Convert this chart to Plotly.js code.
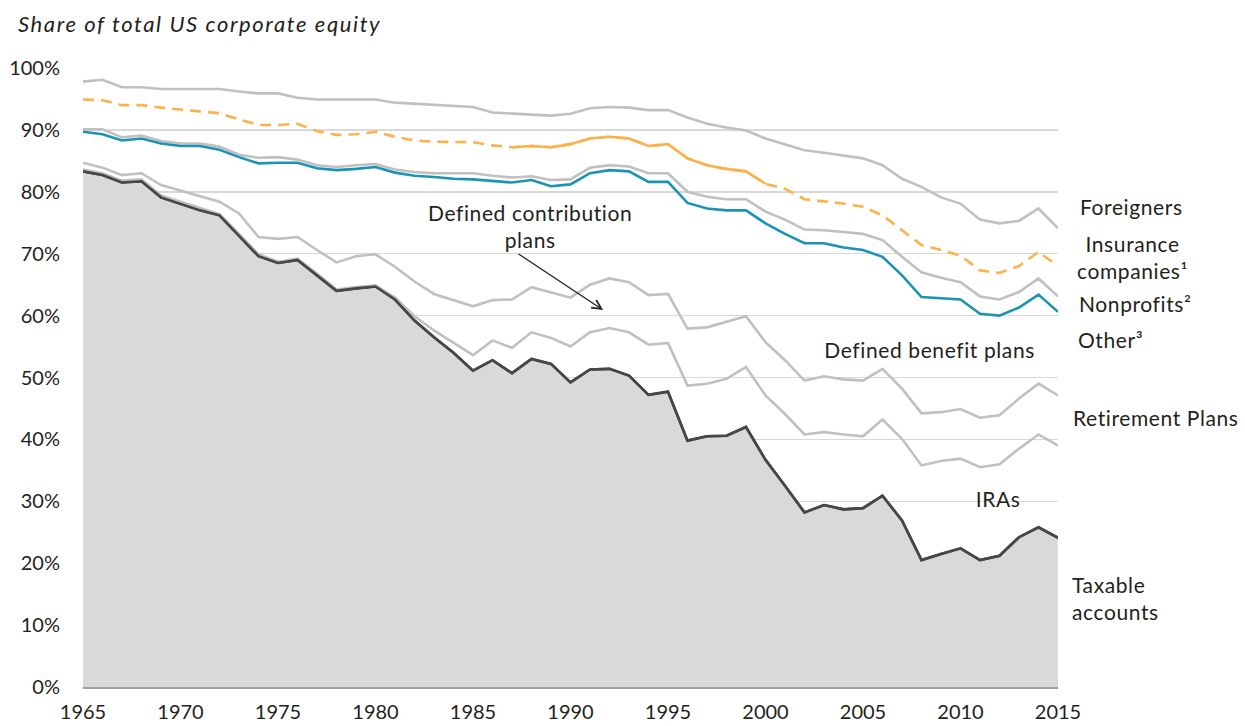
<!DOCTYPE html>
<html>
<head>
<meta charset="utf-8">
<script src="https://cdn.plot.ly/plotly-3.0.1.min.js"></script>
<style>
  html, body { margin: 0; padding: 0; background: #ffffff; }
  #chart { width: 1245px; height: 726px; }
  #chart .annotation-text { letter-spacing: 0.6px; }
  #chart .gtitle { letter-spacing: 1.6px; }
</style>
</head>
<body>
<div id="chart"></div>
<script>
// Years
const years = [];
for (let y = 1965; y <= 2015; y++) years.push(y);

// Cumulative share boundaries (% of total US corporate equity)
// Top of "Taxable accounts" (dark line, filled below)
const taxableTop = [83.3,82.7,81.5,81.7,79.1,78.1,77.0,76.2,72.9,69.6,
  68.5,69.0,66.5,64.0,64.4,64.7,62.6,59.2,56.5,54.0,
  51.1,52.8,50.7,53.0,52.2,49.2,51.3,51.4,50.3,47.2,
  47.7,39.8,40.5,40.6,42.0,36.7,32.5,28.2,29.4,28.7,
  28.9,30.9,26.9,20.5,21.5,22.4,20.5,21.2,24.2,25.8,24.1];
// Top of "IRAs"
const iraTop = [83.6,83.0,81.8,82.0,79.4,78.4,77.3,76.4,73.2,69.9,
  68.7,69.2,66.8,64.2,64.6,64.9,62.9,59.9,57.6,55.6,
  53.6,56.0,54.8,57.3,56.4,55.0,57.3,58.0,57.3,55.3,
  55.6,48.7,49.0,49.8,51.7,47.1,44.1,40.8,41.2,40.8,
  40.5,43.2,40.1,35.8,36.5,36.9,35.5,36.0,38.5,40.8,39.0];
// Top of "Defined contribution plans"
const dcTop = [84.7,83.9,82.7,83.0,81.1,80.2,79.2,78.4,76.5,72.7,
  72.4,72.7,70.6,68.6,69.6,69.9,67.9,65.5,63.5,62.5,
  61.5,62.5,62.6,64.6,63.8,62.9,65.0,66.0,65.4,63.3,
  63.5,57.9,58.1,59.0,59.9,55.7,52.8,49.5,50.2,49.7,
  49.5,51.4,48.2,44.2,44.4,44.9,43.5,43.9,46.6,49.0,47.1];
// Top of "Defined benefit plans" (blue line)
const dbTop = [89.7,89.3,88.3,88.6,87.8,87.4,87.4,86.8,85.6,84.6,
  84.7,84.7,83.8,83.5,83.7,84.0,83.1,82.6,82.4,82.1,
  82.0,81.8,81.5,81.9,80.9,81.2,83.0,83.5,83.3,81.6,
  81.6,78.2,77.3,77.0,77.0,74.9,73.2,71.7,71.7,71.0,
  70.6,69.5,66.5,63.0,62.8,62.6,60.3,60.0,61.3,63.4,60.6];
// Top of "Other"
const otherTop = [90.1,90.1,88.8,89.1,88.2,87.8,87.8,87.3,86.0,85.5,
  85.6,85.2,84.3,84.0,84.3,84.5,83.6,83.2,83.0,83.0,
  83.0,82.6,82.3,82.5,81.9,82.0,83.9,84.3,84.1,83.0,
  83.0,80.0,79.2,78.8,78.8,76.8,75.5,73.9,73.8,73.5,
  73.2,72.2,69.5,67.0,66.1,65.4,63.1,62.6,63.8,66.0,63.1];
// Top of "Nonprofits" (orange line)
const nonprofitTop = [94.9,94.8,94.0,94.0,93.6,93.3,92.9,92.7,91.7,90.8,
  90.8,91.0,89.8,89.2,89.3,89.7,88.9,88.3,88.1,88.1,
  88.0,87.5,87.2,87.4,87.2,87.7,88.6,88.9,88.6,87.4,
  87.7,85.4,84.3,83.7,83.3,81.3,80.5,78.8,78.5,78.1,
  77.6,76.2,73.8,71.4,70.6,69.7,67.3,66.9,68.0,70.3,68.0];
// Top of "Insurance companies" (Foreigners above, up to 100%)
const insuranceTop = [97.8,98.1,96.9,96.9,96.6,96.6,96.6,96.6,96.2,95.9,
  95.9,95.2,94.9,94.9,94.9,94.9,94.4,94.2,94.0,93.9,
  93.7,92.8,92.6,92.5,92.3,92.6,93.5,93.7,93.6,93.2,
  93.2,92.0,91.0,90.4,89.9,88.6,87.7,86.7,86.3,85.8,
  85.4,84.3,82.1,80.8,79.1,78.1,75.5,74.9,75.3,77.3,74.1];

// Solid segment of the orange line
const solidStart = 1987, solidEnd = 2000;

const yTickVals = [0,10,20,30,40,50,60,70,80,90,100];
const yTickText = yTickVals.map(v => v + '%');
const xTickVals = [1965,1970,1975,1980,1985,1990,1995,2000,2005,2010,2015];

const GRAY = '#c0c0c0';
const DARK = '#474747';
const BLUE = '#1b93b4';
const ORANGE = '#fbb24a';
const TXT = '#231f20';
const FONT = 'Lato, "Open Sans", sans-serif';

const solidPairs = years.map((y,i) => [y, nonprofitTop[i]]).filter(p => p[0] >= solidStart && p[0] <= solidEnd);
const solidX = solidPairs.map(p => p[0]);
const solidY = solidPairs.map(p => p[1]);

const lw = 2.6;
const traces = [
  {x: years, y: taxableTop, type: 'scatter', mode: 'lines', fill: 'tozeroy',
   fillcolor: '#d9d9d9', line: {color: DARK, width: lw}, hoverinfo: 'skip'},
  {x: years, y: iraTop, type: 'scatter', mode: 'lines', line: {color: GRAY, width: lw}, hoverinfo: 'skip'},
  {x: years, y: taxableTop, type: 'scatter', mode: 'lines', line: {color: DARK, width: lw}, hoverinfo: 'skip'},
  {x: years, y: dcTop, type: 'scatter', mode: 'lines', line: {color: GRAY, width: lw}, hoverinfo: 'skip'},
  {x: years, y: otherTop, type: 'scatter', mode: 'lines', line: {color: GRAY, width: lw}, hoverinfo: 'skip'},
  {x: years, y: dbTop, type: 'scatter', mode: 'lines', line: {color: BLUE, width: lw}, hoverinfo: 'skip'},
  {x: years, y: insuranceTop, type: 'scatter', mode: 'lines', line: {color: GRAY, width: lw}, hoverinfo: 'skip'},
  {x: years, y: nonprofitTop, type: 'scatter', mode: 'lines', line: {color: ORANGE, width: lw, dash: '11px,7px'}, hoverinfo: 'skip'},
  {x: solidX, y: solidY, type: 'scatter', mode: 'lines', line: {color: ORANGE, width: lw}, hoverinfo: 'skip'}
];

// plot area: left 83px, width 975px
const px = p => (p - 83) / 975;

const lab = (x, xref, y, text, xanchor, align) => ({
  x: x, y: y, xref: xref, yref: 'y', text: text, showarrow: false,
  xanchor: xanchor || 'left', yanchor: 'middle', align: align || 'left',
  font: {family: FONT, size: 21, color: TXT}
});

const annotations = [
  lab(px(1078), 'paper', 77.7, 'Foreigners'),
  lab(px(1132), 'paper', 69.5, 'Insurance<br>companies¹', 'center', 'center'),
  lab(px(1077), 'paper', 62.0, 'Nonprofits²'),
  lab(px(1076), 'paper', 56.1, 'Other³'),
  lab(2008.4, 'x', 54.6, 'Defined benefit plans', 'center', 'center'),
  lab(px(1071), 'paper', 43.5, 'Retirement Plans'),
  lab(2011.9, 'x', 30.4, 'IRAs', 'center', 'center'),
  lab(px(1070), 'paper', 14.3, 'Taxable<br>accounts'),
  lab(1987.9, 'x', 74.5, 'Defined contribution<br>plans', 'center', 'center'),
  {x: 1991.67, y: 60.9, xref: 'x', yref: 'y', text: '', showarrow: true,
   ax: -86, ay: -57, axref: 'pixel', ayref: 'pixel',
   arrowhead: 5, arrowsize: 1.4, arrowwidth: 1.3, arrowcolor: '#222222'}
];

const layout = {
  width: 1245, height: 726,
  margin: {l: 83, r: 187, t: 68, b: 39},
  paper_bgcolor: '#ffffff', plot_bgcolor: '#ffffff',
  showlegend: false,
  title: {
    text: '<i>Share of total US corporate equity</i>',
    x: 18 / 1245, xref: 'container', xanchor: 'left',
    y: 1 - 24 / 726, yref: 'container', yanchor: 'middle',
    font: {family: FONT, size: 22, color: TXT}
  },
  xaxis: {
    range: [1965, 2015], tickvals: xTickVals, ticktext: xTickVals.map(String),
    showgrid: false, zeroline: false, showline: true, linecolor: '#a0a0a0', linewidth: 1.5,
    ticks: 'outside', ticklen: 6, tickcolor: 'rgba(0,0,0,0)',
    tickfont: {family: FONT, size: 20, color: TXT}, fixedrange: true
  },
  yaxis: {
    range: [0, 100], tickvals: yTickVals, ticktext: yTickText,
    showgrid: true, gridcolor: '#d9d9d9', gridwidth: 1.5, zeroline: false, showline: false,
    ticks: 'outside', ticklen: 18, tickcolor: 'rgba(0,0,0,0)',
    tickfont: {family: FONT, size: 20, color: TXT}, fixedrange: true
  },
  annotations: annotations
};

Plotly.newPlot('chart', traces, layout, {displayModeBar: false, staticPlot: true});
</script>
</body>
</html>
